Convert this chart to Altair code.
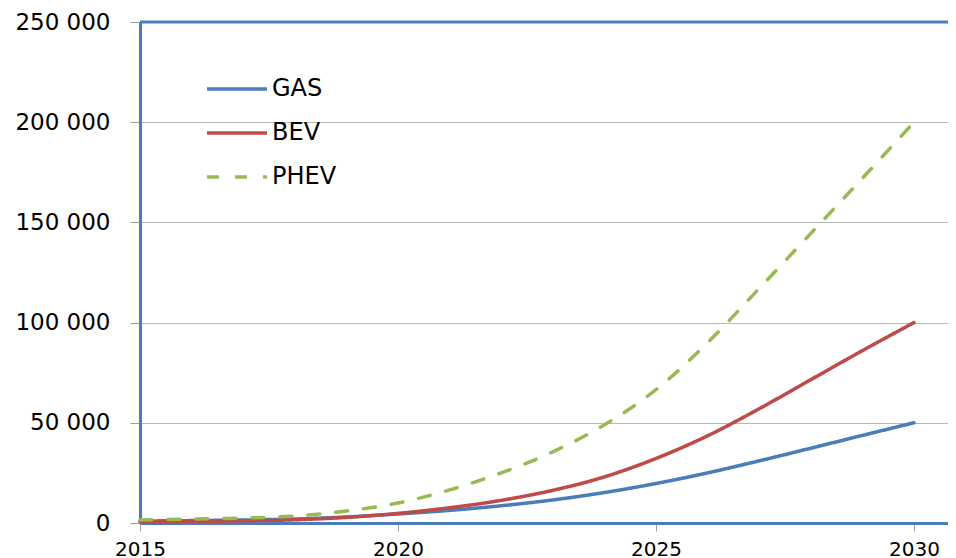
import altair as alt
import pandas as pd

years = list(range(2015, 2031))
gas = [1000, 1200, 1500, 2000, 3000, 4500, 6300, 8600, 11500, 15200, 19700, 25000, 31000, 37300, 43700, 50000]
bev = [600, 800, 1100, 1600, 2800, 4800, 7600, 11300, 16300, 23000, 32200, 43500, 57000, 71500, 86000, 100000]
phev = [1500, 2000, 2500, 3500, 6000, 10000, 16500, 25000, 35500, 49000, 66500, 90000, 117000, 144500, 172000, 200000]

series_names = ["GAS", "BEV", "PHEV"]
series_colors = ["#4A7EBB", "#BE4B48", "#98B954"]
series_dash = [[1, 0], [1, 0], [12, 16]]
y_ticks = [0, 50000, 100000, 150000, 200000, 250000]
x_ticks = [2015, 2020, 2025, 2030]
y_max = [250000]

rows = []
for name, vals in zip(series_names, [gas, bev, phev]):
    for yr, v in zip(years, vals):
        rows.append({"year": yr, "value": v, "series": name})
df = pd.DataFrame(rows)

axis_blue = "#4A7EBB"


def make_legend():
    return alt.Legend(title=None, orient="none", legendX=65, legendY=57,
                      symbolType="stroke", symbolSize=3600, symbolStrokeWidth=3.5,
                      clipHeight=20, rowPadding=20, padding=0,
                      labelFontSize=24, labelFont="DejaVu Sans", labelColor="#000000",
                      labelOffset=3)


x_enc = alt.X("year:Q",
              scale=alt.Scale(domain=[2015, 2030.66], nice=False, zero=False),
              axis=alt.Axis(values=x_ticks, format="d", title=None, grid=False,
                            domainColor=axis_blue, domainWidth=3,
                            tickColor="#A0A0A0", tickSize=8, tickWidth=1,
                            labelFontSize=20, labelFont="DejaVu Sans", labelColor="#000000",
                            labelPadding=8, labelFlush=False))
y_scale = alt.Scale(domain=[0, 250000], nice=False)

lines = alt.Chart(df).mark_line(strokeWidth=3.5, interpolate="monotone", strokeCap="round").encode(
    x=x_enc,
    y=alt.Y("value:Q",
            scale=y_scale,
            axis=alt.Axis(values=y_ticks, title=None, grid=True, gridColor="#B8B8B8", gridWidth=1,
                          labelExpr="replace(format(datum.value, ','), ',', ' ')",
                          domainColor=axis_blue, domainWidth=3,
                          tickColor="#A0A0A0", tickSize=10, tickWidth=1,
                          labelFontSize=23, labelFont="DejaVu Sans", labelColor="#000000",
                          labelPadding=20)),
    color=alt.Color("series:N",
                    scale=alt.Scale(domain=series_names, range=series_colors),
                    legend=make_legend()),
    strokeDash=alt.StrokeDash("series:N",
                              scale=alt.Scale(domain=series_names, range=series_dash),
                              legend=make_legend()),
)

top_border = alt.Chart(pd.DataFrame({"v": y_max})).mark_rule(color=axis_blue, strokeWidth=3).encode(
    y=alt.Y("v:Q", scale=y_scale)
)

chart = alt.layer(lines, top_border).properties(
    width=808, height=501,
    autosize=alt.AutoSizeParams(type="none"),
    padding={"left": 132, "top": 14, "right": 0, "bottom": 35},
).configure_view(stroke="transparent", strokeWidth=0)

chart.save("out.html", embed_options={"renderer": "svg", "actions": False})
